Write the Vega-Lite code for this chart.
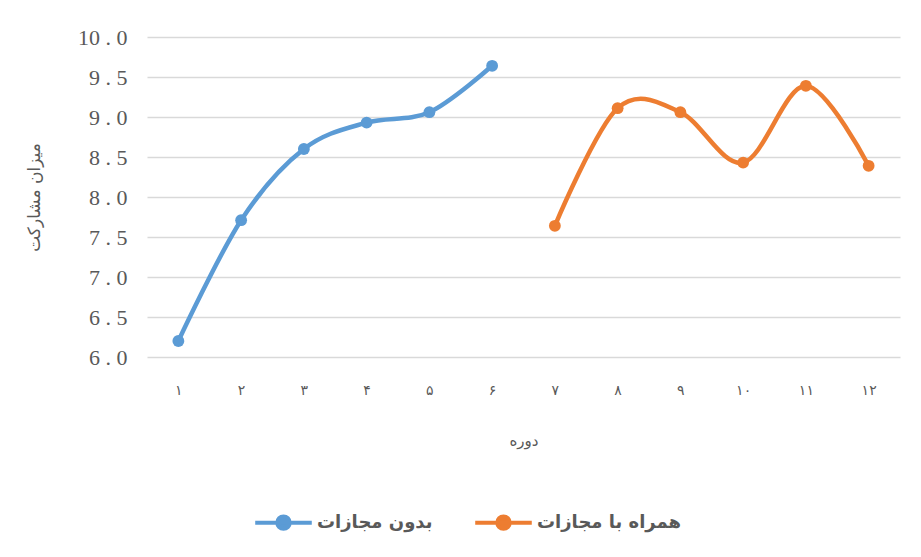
{
  "$schema": "https://vega.github.io/schema/vega-lite/v6.json",
  "autosize": {"type": "none"},
  "width": 753,
  "height": 320,
  "padding": {"left": 147, "top": 37, "right": 21, "bottom": 200},
  "background": "white",
  "config": {
    "view": {"stroke": null},
    "axis": {"labelColor": "#595959", "titleColor": "#595959", "domain": false, "ticks": false}
  },
  "data": {
    "values": [
      {"period": "۱", "value": 6.2, "series": "بدون مجازات"},
      {"period": "۲", "value": 7.71, "series": "بدون مجازات"},
      {"period": "۳", "value": 8.6, "series": "بدون مجازات"},
      {"period": "۴", "value": 8.93, "series": "بدون مجازات"},
      {"period": "۵", "value": 9.06, "series": "بدون مجازات"},
      {"period": "۶", "value": 9.64, "series": "بدون مجازات"},
      {"period": "۷", "value": 7.64, "series": "همراه با مجازات"},
      {"period": "۸", "value": 9.11, "series": "همراه با مجازات"},
      {"period": "۹", "value": 9.06, "series": "همراه با مجازات"},
      {"period": "۱۰", "value": 8.43, "series": "همراه با مجازات"},
      {"period": "۱۱", "value": 9.39, "series": "همراه با مجازات"},
      {"period": "۱۲", "value": 8.39, "series": "همراه با مجازات"}
    ]
  },
  "encoding": {
    "x": {
      "field": "period", "type": "ordinal",
      "scale": {"domain": ["۱","۲","۳","۴","۵","۶","۷","۸","۹","۱۰","۱۱","۱۲"], "paddingInner": 0, "paddingOuter": 0.5},
      "axis": {"title": "دوره", "labelAngle": 0, "grid": false, "labelFont": "DejaVu Sans", "labelFontSize": 14, "labelPadding": 26, "titleFont": "DejaVu Sans", "titleFontSize": 15, "titleFontWeight": "normal", "titlePadding": 36}
    },
    "y": {
      "field": "value", "type": "quantitative",
      "scale": {"domain": [6, 10], "nice": false, "zero": false},
      "axis": {"title": "میزان مشارکت", "values": [6, 6.5, 7, 7.5, 8, 8.5, 9, 9.5, 10], "format": ".1f", "labelExpr": "replace(datum.label, '.', ' . ')", "labelFont": "Liberation Serif", "labelFontSize": 22, "labelPadding": 20, "gridColor": "#D9D9D9", "gridWidth": 1.5, "titleFont": "DejaVu Sans", "titleFontSize": 17, "titleFontWeight": "normal", "titlePadding": 34}
    },
    "color": {
      "field": "series", "type": "nominal",
      "scale": {"domain": ["بدون مجازات", "همراه با مجازات"], "range": ["#5B9BD5", "#ED7D31"]},
      "legend": {
        "title": null, "orient": "none", "direction": "horizontal", "legendX": 106, "legendY": 455,
        "symbolType": "M-1,0H1M0,-0.22A0.22,0.22,0,1,1,0,0.22A0.22,0.22,0,1,1,0,-0.22",
        "symbolSize": 3200, "symbolStrokeWidth": 4,
        "labelFont": "DejaVu Sans", "labelFontSize": 18, "labelFontWeight": "bold", "labelColor": "#595959",
        "columnPadding": 34, "labelOffset": 3,
        "encode": {"symbols": {"update": {"fill": {"scale": "color", "field": "value"}, "stroke": {"scale": "color", "field": "value"}, "opacity": {"value": 1}}}}
      }
    }
  },
  "layer": [
    {"mark": {"type": "line", "interpolate": "cardinal", "strokeWidth": 4.5}},
    {"mark": {"type": "point", "filled": true, "size": 140, "opacity": 1}}
  ]
}
